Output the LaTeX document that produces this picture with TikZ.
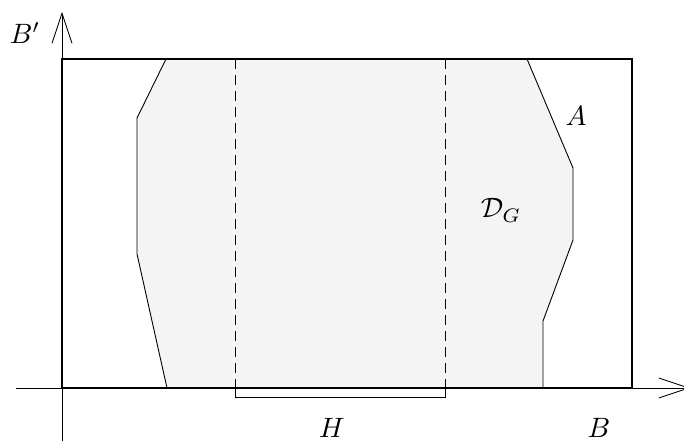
\documentclass[tikz,border=0pt]{standalone}
\usetikzlibrary{arrows.meta}
\begin{document}
\begin{tikzpicture}[x=1pt,y=-1pt,
  thinline/.style={line width=0.9pt},
  thickline/.style={line width=2.4pt},
  axis/.style={line width=0.6pt,-{Straight Barb[length=30pt,width=20pt,line width=0.8pt]}},
  lab/.style={inner sep=0pt, anchor=base},
  region/.style={fill=gray!9, draw=black, line width=0.9pt}]
\useasboundingbox (0,0) rectangle (684,443);
% region
\draw[region] (166,59) -- (137,118) -- (137,254) -- (167,388) -- (543,388)
  -- (543,321) -- (573,240) -- (573,168) -- (527,59) -- cycle;
% bracket below H
\draw[line width=0.7pt] (235,380) -- (235,397) -- (445,397) -- (445,380);
% dashed strip
\draw[thinline, dash pattern=on 10pt off 6pt] (235,59) -- (235,388);
\draw[thinline, dash pattern=on 10pt off 6pt] (445,59) -- (445,388);
% axes
\draw[axis] (16,388) -- (690,388);
\draw[axis] (62,441) -- (62,12);
% outer rectangle
\draw[thickline] (62,59) rectangle (632,388);
% labels
\node[lab] (bp) at (25,44) {\scalebox{2.8}{$B'$}};
\node[lab] (a) at (576,126) {\scalebox{2.8}{$A$}};
\node[lab] (dg) at (501,218) {\scalebox{2.8}{$\mathcal{D}_G$}};
\node[lab] (h) at (332,437) {\scalebox{2.8}{$H$}};
\node[lab] (b) at (599,437) {\scalebox{2.8}{$B$}};
\end{tikzpicture}
\end{document}
